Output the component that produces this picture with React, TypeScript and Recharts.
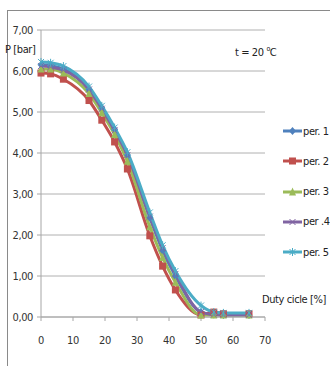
import React from 'react';
import { LineChart, Line, XAxis, YAxis, CartesianGrid } from 'recharts';

// duty cycle [%] and pressure [bar] per measurement
const duty = [0, 3, 7, 15, 19, 23, 27, 34, 38, 42, 50, 54, 57, 65];
const per1 = [6.15, 6.13, 6.05, 5.55, 5.1, 4.58, 3.95, 2.42, 1.62, 1.0, 0.12, 0.06, 0.05, 0.05];
const per2 = [5.95, 5.93, 5.8, 5.28, 4.8, 4.27, 3.61, 1.98, 1.24, 0.66, 0.05, 0.12, 0.08, 0.08];
const per3 = [6.05, 6.05, 5.95, 5.45, 4.98, 4.45, 3.8, 2.2, 1.45, 0.85, 0.05, 0.05, 0.05, 0.05];
const per4 = [6.12, 6.1, 6.02, 5.55, 5.08, 4.55, 3.95, 2.45, 1.68, 1.05, 0.12, 0.06, 0.05, 0.05];
const per5 = [6.22, 6.2, 6.12, 5.62, 5.15, 4.62, 4.02, 2.55, 1.75, 1.12, 0.28, 0.12, 0.1, 0.1];

const yTicks = [0, 1, 2, 3, 4, 5, 6, 7];
const xTicks = [0, 10, 20, 30, 40, 50, 60, 70];

const series = [
  { key: 'per1', name: 'per. 1', color: '#4F81BD', shape: 'diamond' },
  { key: 'per2', name: 'per. 2', color: '#C0504D', shape: 'square' },
  { key: 'per3', name: 'per. 3', color: '#9BBB59', shape: 'triangle' },
  { key: 'per4', name: 'per .4', color: '#8064A2', shape: 'cross' },
  { key: 'per5', name: 'per. 5', color: '#4BACC6', shape: 'star' },
];

const data = duty.map((d, i) => ({
  duty: d,
  per1: per1[i],
  per2: per2[i],
  per3: per3[i],
  per4: per4[i],
  per5: per5[i],
}));

const FONT = '"Liberation Sans Narrow", "DejaVu Sans Condensed", sans-serif';
const labelStyle: React.CSSProperties = { fontSize: 11, color: '#222', whiteSpace: 'nowrap', letterSpacing: -0.4 };

function Marker({ shape, cx, cy, color }: { shape: string; cx: number; cy: number; color: string }) {
  if (cx == null || cy == null) return null;
  const r = 3.5;
  switch (shape) {
    case 'diamond':
      return <polygon points={`${cx},${cy - r - 0.5} ${cx + r},${cy} ${cx},${cy + r + 0.5} ${cx - r},${cy}`} fill={color} />;
    case 'square':
      return <rect x={cx - r} y={cy - r} width={2 * r} height={2 * r} fill={color} />;
    case 'triangle':
      return <polygon points={`${cx},${cy - r - 1} ${cx + r},${cy + r} ${cx - r},${cy + r}`} fill={color} />;
    case 'cross':
      return (
        <g stroke={color} strokeWidth={1}>
          <line x1={cx - 3} y1={cy - 3} x2={cx + 3} y2={cy + 3} />
          <line x1={cx - 3} y1={cy + 3} x2={cx + 3} y2={cy - 3} />
        </g>
      );
    default:
      return (
        <g stroke={color} strokeWidth={1}>
          <line x1={cx - 3} y1={cy - 3} x2={cx + 3} y2={cy + 3} />
          <line x1={cx - 3} y1={cy + 3} x2={cx + 3} y2={cy - 3} />
          <line x1={cx} y1={cy - 4} x2={cx} y2={cy + 4} />
        </g>
      );
  }
}

const fmt = (v: number) => v.toFixed(2).replace('.', ',');

export default function App() {
  return (
    <div style={{ position: 'absolute', left: 0, top: 0, width: 330, height: 366, background: '#fff', fontFamily: FONT, overflow: 'hidden' }}>
      <div style={{ position: 'absolute', left: 7, top: 10, width: 340, height: 370, borderTop: '1.5px solid #8a8a8a', borderLeft: '1.5px solid #8a8a8a' }} />
      <LineChart width={330} height={366} data={data} margin={{ top: 30, right: 65, bottom: 19, left: 0 }} style={{ position: 'absolute', left: 0, top: 0 }}>
        <CartesianGrid vertical={false} stroke="#b0b0b0" />
        <XAxis
          dataKey="duty"
          type="number"
          domain={[0, 70]}
          ticks={xTicks}
          height={30}
          stroke="#a6a6a6"
          tickSize={4}
          tickMargin={15}
          tick={{ fill: '#333', fontSize: 11, fontFamily: FONT, letterSpacing: -0.4 }}
        />
        <YAxis
          domain={[0, 7]}
          ticks={yTicks}
          width={41}
          stroke="#a6a6a6"
          tickSize={4}
          tickMargin={4}
          tickFormatter={fmt}
          tick={{ fill: '#333', fontSize: 11, fontFamily: FONT, letterSpacing: -0.4 }}
        />
        {series.map((s) => (
          <Line
            key={s.key}
            type="monotone"
            dataKey={s.key}
            stroke={s.color}
            strokeWidth={3}
            isAnimationActive={false}
            dot={(p: any) => <Marker key={`${s.key}-${p.index}`} shape={s.shape} cx={p.cx} cy={p.cy} color={s.color} />}
          />
        ))}
      </LineChart>
      <div style={{ ...labelStyle, position: 'absolute', left: 5, top: 43 }}>P [bar]</div>
      <div style={{ ...labelStyle, position: 'absolute', left: 235, top: 45 }}>
        t = 20 <sup style={{ fontSize: 7 }}>o</sup>C
      </div>
      <div style={{ ...labelStyle, position: 'absolute', left: 262, top: 293 }}>Duty cicle [%]</div>
      {series.map((s, i) => (
        <div key={s.key} style={{ ...labelStyle, position: 'absolute', left: 282, top: 124 + i * 30.3, height: 14, display: 'flex', alignItems: 'center' }}>
          <svg width={21} height={14}>
            <line x1={1} y1={7} x2={20} y2={7} stroke={s.color} strokeWidth={3} />
            <Marker shape={s.shape} cx={10.5} cy={7} color={s.color} />
          </svg>
          <span>{s.name}</span>
        </div>
      ))}
    </div>
  );
}
